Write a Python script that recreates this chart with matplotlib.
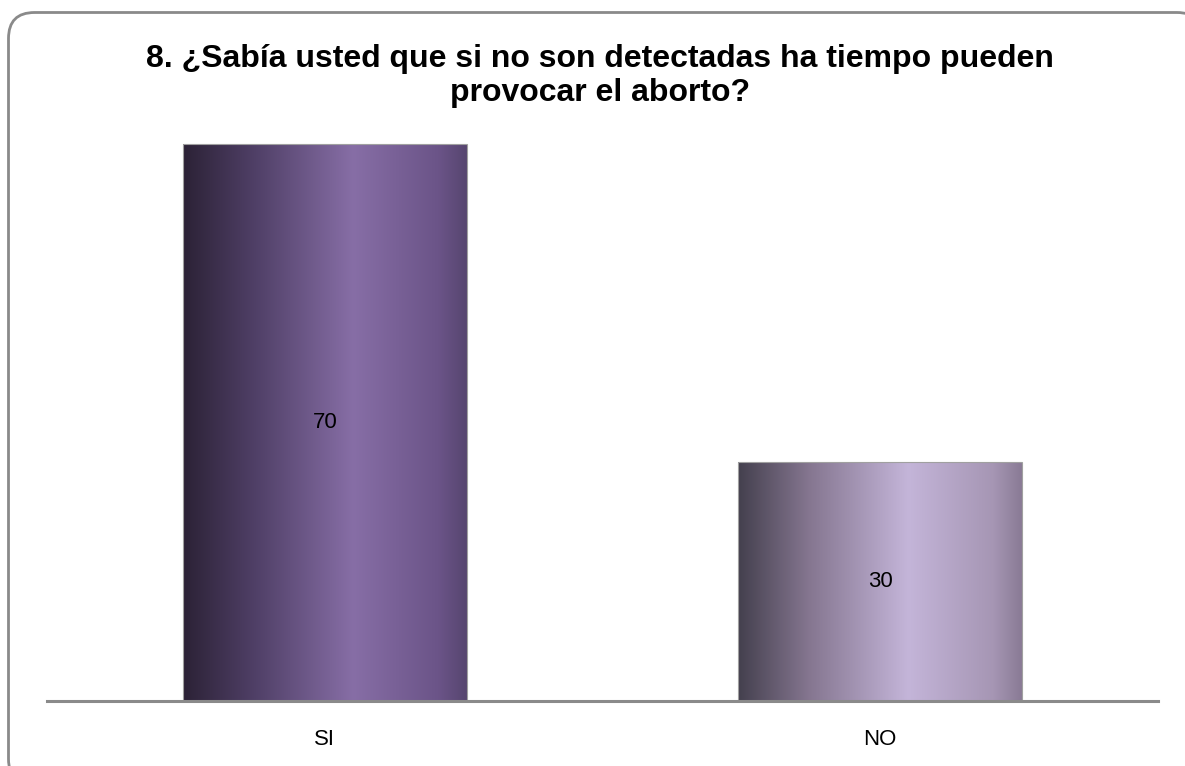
import numpy as np
import matplotlib
matplotlib.use("Agg")
import matplotlib.pyplot as plt
from matplotlib.patches import FancyBboxPatch
from matplotlib.colors import LinearSegmentedColormap

categories = ["SI", "NO"]
values = [70, 30]
title = "8. ¿Sabía usted que si no son detectadas ha tiempo pueden\nprovocar el aborto?"

# gradient stops (position, color) per bar
grad_si = [(0.0, "#2c2236"), (0.25, "#4f3f66"), (0.6, "#876ea6"), (0.9, "#6b5488"), (1.0, "#574670")]
grad_no = [(0.0, "#44404e"), (0.25, "#857690"), (0.6, "#c4b5d9"), (0.9, "#a696b4"), (1.0, "#8a7b95")]
grads = [grad_si, grad_no]

label_font = ["Liberation Sans"]

W, H = 1185, 766
fig = plt.figure(figsize=(W / 100, H / 100), dpi=100)

# rounded frame (pixel coordinates, origin bottom-left)
fx0, fy_top, fx1, fy_bot = 8.5, 12.5, 1203, 785
frame = FancyBboxPatch((fx0, H - fy_bot), fx1 - fx0, fy_bot - fy_top,
                       boxstyle="round,pad=0,rounding_size=26",
                       transform=None, facecolor="white",
                       edgecolor="#8a8a8a", linewidth=2, zorder=-1)
fig.patches.append(frame)

ymax = 72
px_per = (701 - 144) / 70
top_px = 701 - ymax * px_per
ax = fig.add_axes([47 / W, (H - 701) / H, (1158 - 47) / W, (701 - top_px) / H])
ax.set_facecolor("none")
ax.set_xlim(-0.5, 1.5)
ax.set_ylim(0, ymax)

bw = 0.511
x = np.arange(len(categories))
bars = ax.bar(x, values, width=bw, color="none", edgecolor="#a0a0a0", linewidth=0.8, zorder=3)
for b, g in zip(bars, grads):
    cmap = LinearSegmentedColormap.from_list("g", g)
    grad = np.linspace(0, 1, 256).reshape(1, -1)
    im = ax.imshow(grad, cmap=cmap, aspect="auto",
                   extent=[b.get_x(), b.get_x() + b.get_width(), 0, b.get_height()],
                   zorder=2, interpolation="bilinear")
    im.set_clip_path(b)
    ax.text(b.get_x() + b.get_width() / 2, b.get_height() / 2, str(int(b.get_height())),
            ha="center", va="center", fontsize=16, family=label_font, color="#000000", zorder=4)

ax.set_xlim(-0.5, 1.5)
ax.set_ylim(0, ymax)
for s in ["top", "right", "left"]:
    ax.spines[s].set_visible(False)
ax.spines["bottom"].set_color("#8a8a8a")
ax.spines["bottom"].set_linewidth(2.2)
ax.spines["bottom"].set_zorder(5)
ax.set_yticks([])
ax.set_xticks(x)
ax.set_xticklabels(categories, fontsize=16, family=label_font)
ax.tick_params(axis="x", length=0, pad=20)

fig.text(600 / W, 1 - 76 / H, title, ha="center", va="center", fontsize=23,
         fontweight="bold", family="Liberation Sans", linespacing=1.2)

fig.savefig("out.png", dpi=100)
